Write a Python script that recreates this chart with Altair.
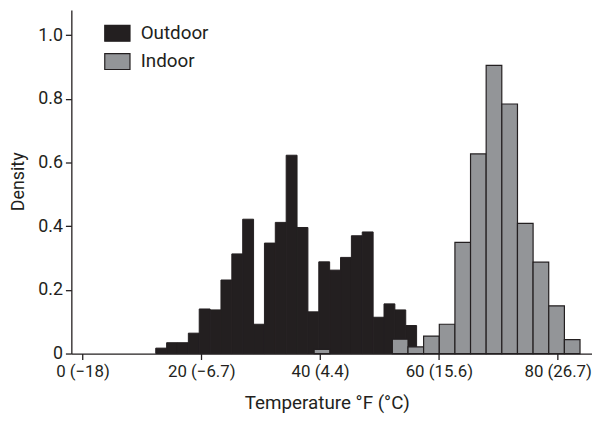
import altair as alt
import pandas as pd

# ---- data ----
series_names = ["Outdoor", "Indoor"]
series_colors = ["#231f20", "#939598"]

outdoor_left = [12.33, 14.16, 15.99, 17.82, 19.65, 21.48, 23.31, 25.14, 26.97, 28.80,
                30.63, 32.46, 34.29, 36.12, 37.95, 39.78, 41.61, 43.44, 45.27, 47.10,
                48.93, 50.76, 52.59, 54.42]
outdoor_density = [0.017, 0.034, 0.034, 0.064, 0.140, 0.137, 0.231, 0.313, 0.422, 0.092,
                   0.347, 0.412, 0.623, 0.396, 0.131, 0.288, 0.262, 0.302, 0.370, 0.382,
                   0.114, 0.156, 0.137, 0.088]
outdoor_width = 1.83

indoor_left = [39.00, 52.17, 54.80, 57.43, 60.07, 62.70, 65.33, 67.96, 70.60, 73.23,
               75.86, 78.50, 81.13]
indoor_density = [0.013, 0.045, 0.021, 0.055, 0.092, 0.349, 0.627, 0.905, 0.784, 0.409,
                  0.287, 0.150, 0.044]
indoor_width = 2.633

x_tick_values = [0, 20, 40, 60, 80]
x_tick_labels = ["0 (\u221218)", "20 (\u22126.7)", "40 (4.4)", "60 (15.6)", "80 (26.7)"]
y_tick_values = [0, 0.2, 0.4, 0.6, 0.8, 1.0]

# ---- tables ----
out_df = pd.DataFrame({
    "left": outdoor_left,
    "right": [l + outdoor_width for l in outdoor_left],
    "density": outdoor_density,
    "series": series_names[0],
})
in_df = pd.DataFrame({
    "left": indoor_left,
    "right": [l + indoor_width for l in indoor_left],
    "density": indoor_density,
    "series": series_names[1],
})

x_expr = ""
for v, lab in zip(x_tick_values, x_tick_labels):
    x_expr += f"datum.value == {v} ? '{lab}' : "
x_expr += "''"

ink = "#231f20"
font = "Roboto"

x_scale = alt.Scale(domain=[-1.88, 85.78], nice=False, zero=False)
y_scale = alt.Scale(domain=[0, 1.079], nice=False)

color = alt.Color(
    "series:N",
    scale=alt.Scale(domain=series_names, range=series_colors),
    title=None,
    legend=alt.Legend(
        orient="none", legendX=33, legendY=10,
        symbolType="M-1,-0.63H1V0.63H-1Z", symbolSize=650,
        symbolStrokeColor=ink, symbolStrokeWidth=1.2, symbolOpacity=1,
        labelFont=font, labelFontSize=19, labelColor=ink, labelOffset=10,
        rowPadding=4.5, padding=0,
    ),
)

x_enc = alt.X(
    "left:Q", scale=x_scale,
    axis=alt.Axis(values=x_tick_values, labelExpr=x_expr,
                  title="Temperature \u00b0F (\u00b0C)", titleX=258,
                  labelPadding=4, titlePadding=15, labelFlush=False,
                  labelFontSize=17),
)
y_enc = alt.Y(
    "density:Q", scale=y_scale,
    axis=alt.Axis(values=y_tick_values,
                  labelExpr="datum.value == 0 ? '0' : format(datum.value, '.1f')",
                  title="Density", labelPadding=3,
                  titleX=-44, titleY=173, titleAngle=270,
                  titleBaseline="bottom", titleAlign="center", titleFontSize=18),
)

outdoor = alt.Chart(out_df).mark_bar(stroke=ink, strokeWidth=1.0).encode(
    x=x_enc, x2="right:Q", y=y_enc, y2=alt.Y2(datum=0), color=color,
)
indoor = alt.Chart(in_df).mark_bar(stroke=ink, strokeWidth=1.2).encode(
    x=x_enc, x2="right:Q", y=y_enc, y2=alt.Y2(datum=0), color=color,
)

chart = (
    alt.layer(outdoor, indoor)
    .properties(
        width=526, height=347,
        autosize=alt.AutoSizeParams(type="none"),
        padding={"left": 64, "top": 0, "right": 0, "bottom": 60},
        background="white",
    )
    .configure_view(stroke=None)
    .configure_axis(
        grid=False, domainColor=ink, domainWidth=1.3, tickColor=ink, tickWidth=1.3,
        tickSize=6, labelFont=font, labelFontSize=18, labelColor=ink,
        titleFont=font, titleFontSize=19, titleFontWeight="normal", titleColor=ink,
    )
)

chart.save("out.html", embed_options={"renderer": "svg", "actions": False})
